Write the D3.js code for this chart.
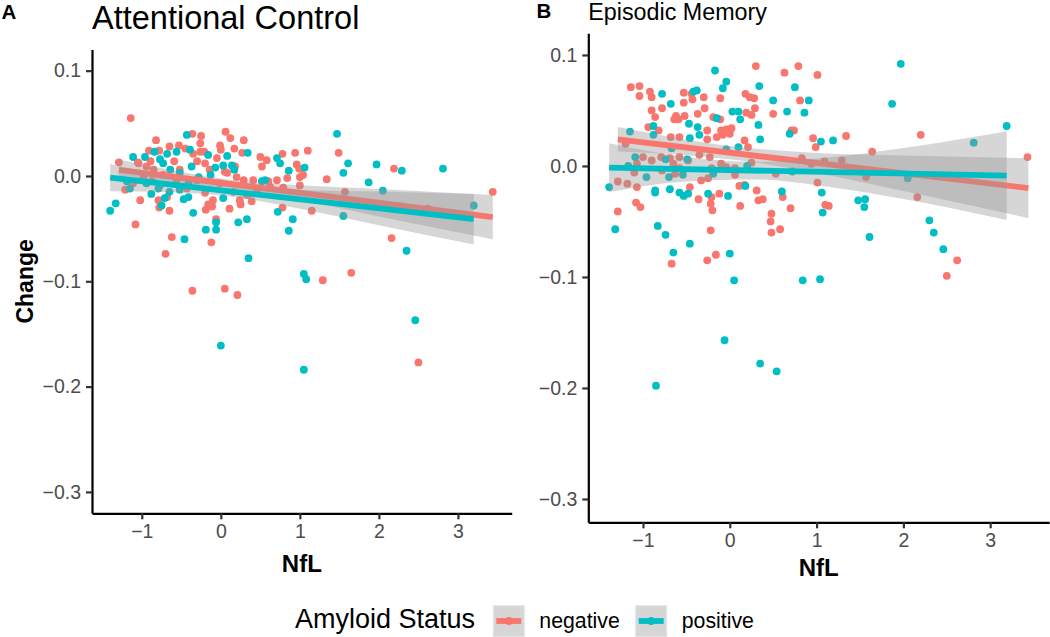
<!DOCTYPE html>
<html><head><meta charset="utf-8">
<script src="https://cdn.jsdelivr.net/npm/d3@7"></script>
<style>body{margin:0;background:#fff}svg{display:block}text{font-family:"Liberation Sans",Arial,sans-serif}</style>
</head><body><svg id="c" width="1050" height="637"></svg>
<script>
// ---------- DATA ----------
const xTicks = [-1, 0, 1, 2, 3];
const yTicks = [0.1, 0.0, -0.1, -0.2, -0.3];
const groups = ["negative", "positive"];
const groupColors = ["#F8766D", "#00BFC4"];
const panelTitles = ["Attentional Control", "Episodic Memory"];
const panelTags = ["A", "B"];

// Panel A: Attentional Control  [NfL, Change]
const attnNegative = [[-1.14,0.055],[-0.36,0.040],[-0.25,0.038],[0.06,0.042],[0.12,0.036],[0.29,0.034],[-0.82,0.034],[-0.65,0.028],[-0.53,0.029],[-0.91,0.024],[-0.78,0.024],[-0.45,0.026],[-0.35,0.021],[-0.26,0.023],[-0.21,0.023],[0.00,0.025],[0.17,0.026],[0.50,0.018],[0.58,0.015],[0.52,0.009],[0.78,0.021],[0.94,0.022],[1.10,0.024],[0.96,0.011],[0.99,0.007],[1.04,0.001],[1.00,-0.001],[1.00,-0.009],[1.49,0.022],[1.34,-0.003],[2.19,0.007],[3.44,-0.015],[-1.29,0.013],[-1.05,0.013],[-1.21,-0.013],[-1.02,-0.023],[-1.08,-0.046],[-0.79,-0.023],[-0.78,-0.030],[-0.65,-0.033],[-0.62,-0.058],[-0.70,-0.074],[-0.19,-0.032],[-0.16,-0.027],[-0.10,-0.023],[-0.06,-0.041],[-0.12,-0.063],[0.11,-0.031],[0.25,-0.027],[0.39,-0.024],[-0.36,-0.109],[0.05,-0.107],[0.21,-0.113],[1.29,-0.099],[1.65,-0.092],[2.16,-0.059],[0.78,-0.030],[1.15,-0.033],[0.79,-0.011],[0.84,-0.002],[0.71,-0.004],[0.60,-0.005],[2.50,-0.177],[2.62,-0.031],[1.57,-0.015],[-1.04,0.012],[-0.94,0.009],[-0.89,0.014],[-0.85,0.006],[-0.98,-0.001],[-0.87,-0.005],[-1.11,-0.007],[-0.73,0.001],[-0.59,0.014],[-0.52,0.006],[-0.56,-0.004],[-0.30,0.014],[-0.20,0.012],[-0.14,0.006],[-0.05,0.017],[-0.30,-0.004],[-0.43,-0.012],[-0.20,-0.016],[-0.01,-0.007],[0.08,0.003],[0.20,-0.001],[0.29,-0.004],[0.16,-0.015],[0.33,-0.018],[0.46,-0.013],[0.41,-0.004],[0.62,-0.010],[0.24,-0.023],[-0.77,-0.009],[-0.68,-0.020],[-0.11,-0.029],[0.05,0.004],[0.18,0.009],[0.27,0.022],[-0.01,0.029],[-0.26,0.031]];
const attnPositive = [[-1.40,-0.033],[-1.33,-0.026],[-1.11,0.018],[-0.96,0.018],[-0.84,0.023],[-0.77,0.016],[-0.68,0.021],[-0.56,0.023],[-0.43,0.039],[-0.39,0.025],[-0.37,0.009],[-0.16,0.020],[-0.07,0.008],[0.08,0.019],[0.17,0.006],[0.34,0.022],[0.71,0.017],[0.75,0.012],[0.86,0.005],[1.06,0.008],[1.47,0.040],[1.61,0.012],[1.55,0.003],[1.97,0.011],[1.87,-0.006],[2.29,0.005],[2.81,0.007],[2.05,-0.014],[3.20,-0.028],[1.55,-0.038],[2.35,-0.071],[1.05,-0.093],[1.08,-0.098],[0.35,-0.078],[-0.46,-0.060],[-0.35,-0.035],[-0.19,-0.051],[-0.06,-0.044],[-0.06,-0.051],[0.22,-0.044],[0.33,-0.041],[0.03,-0.021],[0.72,-0.034],[0.86,-0.052],[0.91,-0.041],[-0.75,-0.028],[-0.71,-0.021],[-0.65,-0.015],[-0.47,-0.022],[-0.41,-0.020],[-0.88,-0.017],[-1.15,-0.012],[0.00,-0.161],[1.05,-0.184],[2.46,-0.137],[-0.73,0.012],[-0.64,0.006],[-0.52,0.003],[-0.41,-0.007],[-0.28,-0.001],[-0.13,0.001],[0.03,0.010],[0.14,0.010],[0.52,-0.005],[0.56,-0.004],[-0.79,-0.012],[-0.52,-0.013],[-0.94,-0.007],[-1.19,-0.005]];
// fitted line with confidence band: [NfL, fit, half-width]
const attnNegFit = [[-1.29,0.0057,0.010],[-0.6,-0.0008,0.006],[0.1,-0.0074,0.004],[1.0,-0.0159,0.007],[2.0,-0.0254,0.013],[3.44,-0.039,0.021]];
const attnPosFit = [[-1.40,-0.0016,0.013],[-0.6,-0.0085,0.007],[0.2,-0.0153,0.005],[1.0,-0.0222,0.009],[2.0,-0.0308,0.016],[3.20,-0.041,0.024]];

// Panel B: Episodic Memory
const memNegative = [[0.30,0.090],[0.79,0.090],[0.63,0.084],[1.01,0.082],[-1.14,0.071],[-1.04,0.072],[-1.04,0.063],[-0.92,0.067],[-0.90,0.062],[-0.53,0.066],[-0.44,0.065],[-0.53,0.057],[-0.43,0.060],[-0.30,0.062],[-0.29,0.052],[-0.11,0.061],[0.18,0.065],[0.23,0.062],[0.28,0.061],[0.19,0.048],[0.29,0.052],[0.25,0.046],[0.50,0.047],[0.81,0.059],[-0.90,0.050],[-0.86,0.044],[-0.78,0.052],[-0.62,0.045],[-0.59,0.042],[-0.64,0.042],[-0.52,0.045],[-0.37,0.047],[-0.19,0.044],[-0.11,0.042],[-0.94,0.035],[-0.82,0.032],[-0.68,0.026],[-0.58,0.026],[-0.26,0.032],[-0.26,0.024],[-0.15,0.026],[-0.10,0.032],[-0.04,0.033],[0.02,0.034],[0.00,0.029],[-0.08,0.028],[0.71,0.032],[0.74,0.032],[0.96,0.025],[0.99,0.017],[1.34,0.027],[2.20,0.028],[3.43,0.008],[1.64,0.013],[0.17,0.023],[0.21,0.017],[-1.20,0.020],[-1.00,0.008],[-0.90,0.005],[-0.79,0.008],[-0.69,0.007],[-0.58,0.008],[-0.48,0.005],[-0.35,0.010],[-0.23,0.008],[0.83,0.007],[0.94,0.002],[1.09,0.004],[1.29,0.005],[-1.07,0.002],[-0.65,0.002],[-0.58,-0.002],[-0.21,-0.002],[-0.10,0.002],[-0.04,-0.001],[0.06,-0.002],[0.25,0.003],[-1.10,-0.006],[-0.78,-0.004],[-0.63,-0.007],[-1.29,-0.014],[-1.18,-0.016],[-1.07,-0.019],[-0.33,-0.013],[-0.25,-0.011],[0.06,-0.008],[0.53,-0.007],[1.01,-0.015],[2.16,-0.028],[1.57,-0.010],[-0.46,-0.019],[0.11,-0.018],[0.17,-0.017],[0.31,-0.022],[-0.36,-0.030],[-0.21,-0.028],[-0.12,-0.025],[-0.22,-0.034],[-0.20,-0.040],[0.12,-0.036],[0.33,-0.031],[0.38,-0.030],[0.61,-0.028],[0.70,-0.038],[0.48,-0.043],[0.47,-0.050],[0.48,-0.060],[0.58,-0.057],[1.10,-0.035],[1.14,-0.036],[-1.08,-0.033],[-1.03,-0.037],[-1.29,-0.041],[-0.22,-0.058],[-0.67,-0.088],[-0.26,-0.085],[-0.16,-0.080],[2.62,-0.085],[2.50,-0.099]];
const memPositive = [[-0.17,0.086],[-0.04,0.076],[-0.08,0.070],[0.34,0.072],[0.75,0.071],[1.97,0.092],[1.87,0.056],[3.19,0.036],[2.81,0.021],[0.50,0.059],[0.91,0.059],[0.86,0.048],[0.66,0.049],[-0.78,0.065],[-0.68,0.056],[-0.42,0.067],[-0.38,0.068],[0.03,0.049],[0.10,0.049],[0.12,0.042],[-0.15,0.043],[-0.47,0.038],[-0.37,0.035],[-0.35,0.028],[-0.88,0.036],[-1.15,0.031],[-0.88,0.028],[0.33,0.037],[0.35,0.024],[0.69,0.029],[1.05,0.022],[1.19,0.023],[0.10,0.017],[-0.04,0.015],[-0.67,0.016],[-0.46,0.025],[-1.09,0.008],[-0.74,0.006],[-0.49,0.006],[-1.17,0.000],[0.20,0.000],[0.72,-0.005],[-0.96,-0.010],[-0.70,-0.010],[-0.54,-0.008],[-0.19,-0.007],[2.05,-0.011],[-1.39,-0.019],[-0.86,-0.022],[-0.86,-0.024],[-0.69,-0.021],[-0.58,-0.024],[-0.53,-0.027],[-0.48,-0.025],[-0.25,-0.025],[-0.02,-0.027],[0.18,-0.018],[0.60,-0.023],[1.06,-0.024],[1.07,-0.042],[1.48,-0.031],[1.56,-0.030],[1.55,-0.037],[2.30,-0.049],[2.35,-0.060],[-1.32,-0.057],[-0.83,-0.054],[-0.74,-0.062],[1.61,-0.064],[-0.65,-0.078],[-0.46,-0.070],[0.00,-0.079],[0.05,-0.103],[0.84,-0.103],[1.04,-0.102],[2.46,-0.075],[-0.06,-0.157],[0.35,-0.178],[0.54,-0.185],[-0.85,-0.198]];
const memNegFit = [[-1.29,0.024,0.011],[-0.5,0.0167,0.007],[0.1,0.0111,0.006],[1.0,0.0027,0.009],[2.0,-0.0066,0.016],[3.44,-0.020,0.027]];
const memPosFit = [[-1.39,-0.0015,0.022],[-0.5,-0.0029,0.011],[0.3,-0.0042,0.008],[1.0,-0.0053,0.012],[2.0,-0.0068,0.023],[3.19,-0.0087,0.040]];

// ---------- LAYOUT ----------
const panels = [
  {title: panelTitles[0], tag: panelTags[0], pts: [attnNegative, attnPositive], fits: [attnNegFit, attnPosFit],
   left: 92, right: 511.7, top: 49.5, bottom: 513.3, xd: [-1.63, 3.68], yd: [-0.3203, 0.1201],
   titleSize: 32.5, titleBase: 28.5, tagX: 1.5, tagBase: 18.5},
  {title: panelTitles[1], tag: panelTags[1], pts: [memNegative, memPositive], fits: [memNegFit, memPosFit],
   left: 588.3, right: 1049.2, top: 33.3, bottom: 522.3, xd: [-1.63, 3.68], yd: [-0.321, 0.1195],
   titleSize: 23.3, titleBase: 19.5, tagX: 536.5, tagBase: 17.5}
];

const svg = d3.select("#c");
const fmtY = v => d3.format(".1f")(v).replace("-", "\u2212");
const fmtX = v => String(v).replace("-", "\u2212");

panels.forEach((p, pi) => {
  const x = d3.scaleLinear().domain(p.xd).range([p.left, p.right]);
  const y = d3.scaleLinear().domain(p.yd).range([p.bottom, p.top]);
  const g = svg.append("g");

  // points
  p.pts.forEach((arr, gi) => {
    g.append("g").selectAll("circle").data(arr).join("circle")
      .attr("cx", d => x(d[0])).attr("cy", d => y(d[1])).attr("r", 3.9)
      .attr("fill", groupColors[gi]);
  });
  // smooth: ribbon then line per group
  p.fits.forEach((f, gi) => {
    const area = d3.area().x(d => x(d[0])).y0(d => y(d[1] - d[2])).y1(d => y(d[1] + d[2])).curve(d3.curveMonotoneX);
    g.append("path").datum(f).attr("d", area).attr("fill", "#999999").attr("fill-opacity", 0.4);
    const line = d3.line().x(d => x(d[0])).y(d => y(d[1]));
    g.append("path").datum([f[0], f[f.length - 1]]).attr("d", line)
      .attr("stroke", groupColors[gi]).attr("stroke-width", 5.8).attr("fill", "none");
  });

  // axes
  const xa = g.append("g").attr("transform", `translate(0,${p.bottom})`)
    .call(d3.axisBottom(x).tickValues(xTicks).tickFormat(fmtX).tickSize(6).tickPadding(5).tickSizeOuter(0));
  const ya = g.append("g").attr("transform", `translate(${p.left},0)`)
    .call(d3.axisLeft(y).tickValues(yTicks).tickFormat(fmtY).tickSize(6).tickPadding(5).tickSizeOuter(0));
  [xa, ya].forEach(a => {
    a.select(".domain").attr("stroke", "#000").attr("stroke-width", 2.2);
    a.selectAll(".tick line").attr("stroke", "#333").attr("stroke-width", 2.2);
    a.selectAll(".tick text").attr("fill", "#4D4D4D").style("font-size", "19.5px");
  });

  // titles
  svg.append("text").attr("x", p.tagX).attr("y", p.tagBase).text(p.tag)
    .style("font-size", "20.5px").style("font-weight", "bold").attr("fill", "#000");
  svg.append("text").attr("x", p.left).attr("y", p.titleBase).text(p.title)
    .style("font-size", p.titleSize + "px").attr("fill", "#000");
  svg.append("text").attr("x", (p.left + p.right) / 2).attr("y", p.bottom + (pi === 0 ? 58.5 : 54))
    .attr("text-anchor", "middle").text("NfL").style("font-size", "24px").style("font-weight", "bold");
  if (pi === 0) {
    svg.append("text").attr("transform", `translate(${33},${(p.top + p.bottom) / 2}) rotate(-90)`)
      .attr("text-anchor", "middle").text("Change").style("font-size", "23px").style("font-weight", "bold");
  }
});

// legend
const lg = svg.append("g");
lg.append("text").attr("x", 295).attr("y", 628).text("Amyloid Status").style("font-size", "27px");
const keyX = [493.3, 635.7];
groups.forEach((name, i) => {
  const kx = keyX[i];
  lg.append("rect").attr("x", kx).attr("y", 605.7).attr("width", 31).attr("height", 31)
    .attr("fill", "#D6D6D6").attr("stroke", "#E5E5E5").attr("stroke-width", 1);
  lg.append("line").attr("x1", kx + 3).attr("x2", kx + 28).attr("y1", 621).attr("y2", 621)
    .attr("stroke", groupColors[i]).attr("stroke-width", 5.8);
  lg.append("circle").attr("cx", kx + 15.5).attr("cy", 621).attr("r", 3.9).attr("fill", groupColors[i]);
  lg.append("text").attr("x", kx + 46).attr("y", 627.5).text(name).style("font-size", "21.3px");
});
</script></body></html>
